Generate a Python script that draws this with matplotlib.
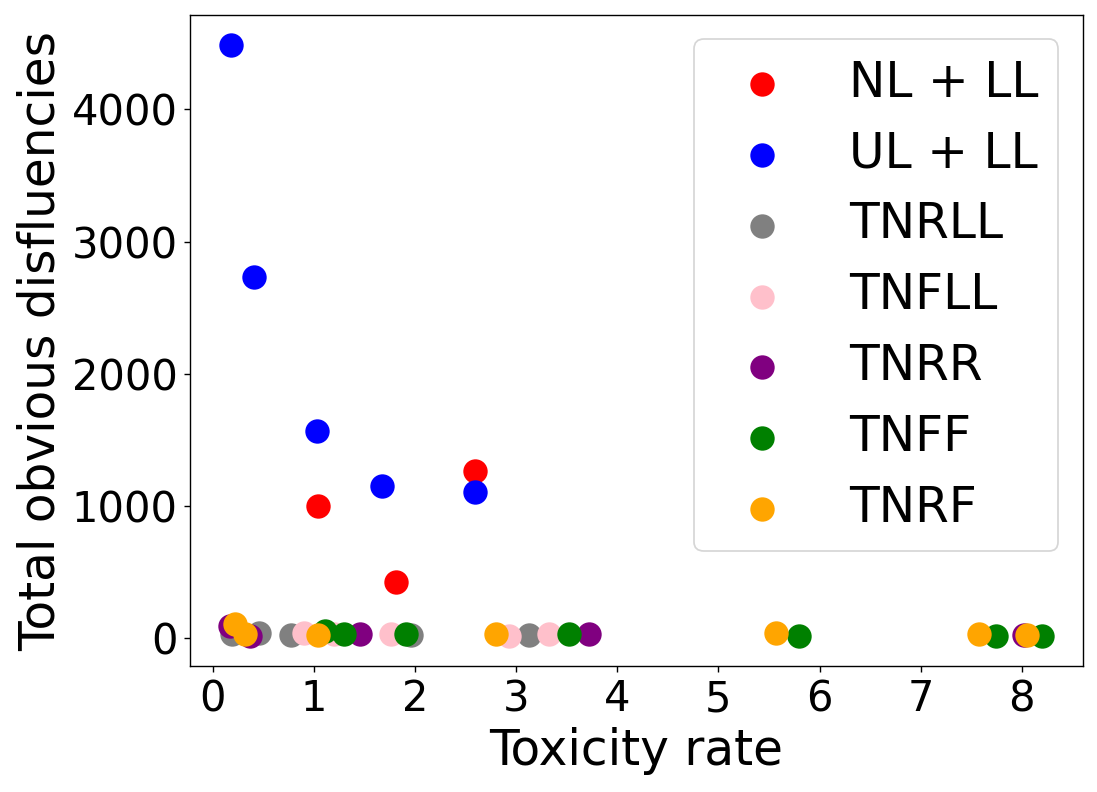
import matplotlib
matplotlib.use("Agg")
import matplotlib.pyplot as plt

# datos
nl_x = [1.04, 1.81, 2.59]
nl_y = [1000, 430, 1270]
ul_x = [0.18, 0.41, 1.03, 1.675, 2.59]
ul_y = [4490, 2735, 1570, 1150, 1105]
tnrll_x = [0.19, 0.455, 0.77, 1.96, 3.13]
tnrll_y = [32, 38, 27, 27, 27]
tnfll_x = [0.90, 1.20, 1.76, 2.93, 3.32]
tnfll_y = [38, 32, 32, 15, 32]
tnrr_x = [0.175, 0.37, 1.46, 3.72, 8.02]
tnrr_y = [95, 20, 32, 32, 25]
tnff_x = [1.11, 1.30, 1.91, 3.52, 5.80, 7.74, 8.20]
tnff_y = [57, 32, 32, 32, 15, 15, 15]
tnrf_x = [0.225, 0.32, 1.04, 2.80, 5.565, 7.58, 8.05]
tnrf_y = [108, 32, 27, 32, 40, 32, 25]
xticks = [0, 1, 2, 3, 4, 5, 6, 7, 8]

series = [
    ("NL + LL", nl_x, nl_y, "red"),
    ("UL + LL", ul_x, ul_y, "blue"),
    ("TNRLL", tnrll_x, tnrll_y, "gray"),
    ("TNFLL", tnfll_x, tnfll_y, "pink"),
    ("TNRR", tnrr_x, tnrr_y, "purple"),
    ("TNFF", tnff_x, tnff_y, "green"),
    ("TNRF", tnrf_x, tnrf_y, "orange"),
]

fig = plt.figure(figsize=(1097 / 125, 792 / 125), dpi=125)
ax = fig.add_axes([0.173, 0.159, 0.814, 0.822])

for nombre, x, y, color in series:
    ax.scatter(x, y, s=170, color=color, label=nombre)

ax.set_xticks(xticks)
ax.set_xlabel("Toxicity rate", fontsize=28)
ax.set_ylabel("Total obvious disfluencies", fontsize=28)
ax.tick_params(labelsize=24)
ax.legend(fontsize=28, loc="upper right", labelspacing=0.47)

fig.savefig("out.png", dpi=125)
